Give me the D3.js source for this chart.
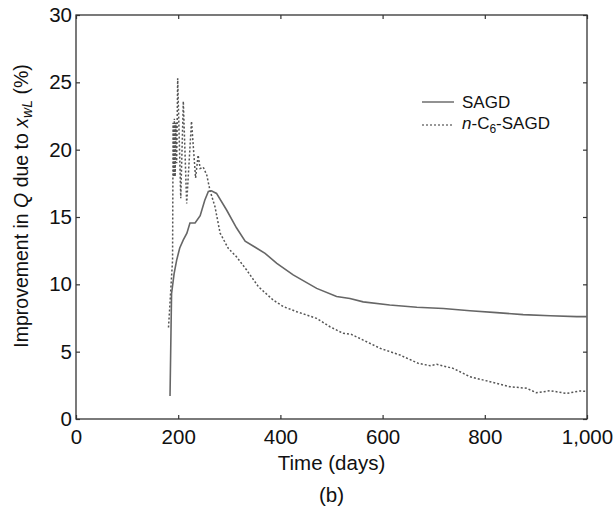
<!DOCTYPE html>
<html>
<head>
<meta charset="utf-8">
<script src="https://cdn.jsdelivr.net/npm/d3@7"></script>
<style>
  html, body { margin: 0; padding: 0; background: #fff; }
  svg { display: block; font-family: "Liberation Sans", Arial, Helvetica, sans-serif; }
</style>
</head>
<body>
<svg id="chart" width="614" height="513"></svg>
<script>
// ---- Data ----
const xTicks = [0, 200, 400, 600, 800, 1000];
const xTickLabels = ["0", "200", "400", "600", "800", "1,000"];
const yTicks = [0, 5, 10, 15, 20, 25, 30];

const sagdDays = [184, 187, 192, 197, 203, 210, 217, 223, 233, 243, 252, 259, 265, 275, 295, 314, 331, 353, 370, 393, 425, 471, 510, 536, 562, 614, 667, 719, 771, 823, 875, 928, 980, 1000];
const sagdVals = [1.7, 9.3, 10.8, 11.8, 12.7, 13.3, 13.8, 14.55, 14.55, 15.1, 16.25, 16.9, 16.95, 16.75, 15.5, 14.2, 13.2, 12.7, 12.3, 11.55, 10.7, 9.7, 9.1, 8.95, 8.7, 8.46, 8.3, 8.2, 8.04, 7.9, 7.75, 7.67, 7.6, 7.6];

const nc6Days = [181, 183, 185, 187, 189, 190, 191, 192.5, 194, 195.5, 197, 199, 205, 210, 216.6, 226, 234, 239, 243, 249, 256, 262, 272, 282, 298, 314, 334, 357, 386, 406, 432, 471, 497, 523, 539, 562, 595, 634, 670, 693, 706, 738, 771, 810, 849, 882, 901, 928, 960, 986, 1000];
const nc6Vals = [6.8, 8.0, 9.3, 10.6, 11.8, 22.0, 18.0, 22.3, 18.0, 22.0, 19.0, 25.3, 16.4, 23.6, 16.0, 22.1, 17.9, 19.6, 18.6, 18.7, 18.1, 17.0, 15.76, 13.8, 12.67, 12.05, 11.06, 9.82, 8.83, 8.34, 7.97, 7.47, 6.85, 6.36, 6.28, 5.86, 5.25, 4.75, 4.13, 3.96, 4.06, 3.76, 3.14, 2.77, 2.4, 2.28, 1.95, 2.1, 1.9, 2.08, 2.05];

const seriesNames = ["SAGD", "n-C6-SAGD"];

// ---- Layout ----
const svg = d3.select("#chart");
const L = 76, R = 587, T = 15, B = 419;
const x = d3.scaleLinear().domain([0, 1000]).range([L, R]);
const y = d3.scaleLinear().domain([0, 30]).range([B, T]);
const axisColor = "#333";
const font = 20.5;

// frame
svg.append("rect").attr("x", L).attr("y", T).attr("width", R - L).attr("height", B - T)
  .attr("fill", "none").attr("stroke", axisColor).attr("stroke-width", 1.3);

// axes with inward ticks
const tickLen = 4;
const gBottom = svg.append("g").attr("transform", `translate(0,${B})`)
  .call(d3.axisBottom(x).tickValues(xTicks).tickFormat((d, i) => xTickLabels[i]).tickSizeInner(-tickLen).tickSizeOuter(0).tickPadding(10));
const gTop = svg.append("g").attr("transform", `translate(0,${T})`)
  .call(d3.axisTop(x).tickValues(xTicks).tickFormat("").tickSizeInner(-tickLen).tickSizeOuter(0));
const gLeft = svg.append("g").attr("transform", `translate(${L},0)`)
  .call(d3.axisLeft(y).tickValues(yTicks).tickSizeInner(-tickLen).tickSizeOuter(0).tickPadding(4));
const gRight = svg.append("g").attr("transform", `translate(${R},0)`)
  .call(d3.axisRight(y).tickValues(yTicks).tickFormat("").tickSizeInner(-tickLen).tickSizeOuter(0));

[gBottom, gTop, gLeft, gRight].forEach(g => {
  g.select(".domain").remove();
  g.selectAll(".tick line").attr("stroke", axisColor).attr("stroke-width", 1.2);
  g.selectAll(".tick text").attr("fill", "#111").style("font-size", font + "px").style("font-family", "Liberation Sans, Arial, sans-serif");
});

// lines
const line = d3.line().x(d => x(d[0])).y(d => y(d[1]));
const sagd = sagdDays.map((d, i) => [d, sagdVals[i]]);
const nc6 = nc6Days.map((d, i) => [d, nc6Vals[i]]);

svg.append("path").datum(nc6).attr("d", line)
  .attr("fill", "none").attr("stroke", "#555").attr("stroke-width", 1.5)
  .attr("stroke-dasharray", "2,2");
svg.append("path").datum(sagd).attr("d", line)
  .attr("fill", "none").attr("stroke", "#666").attr("stroke-width", 1.6);

// legend
const lg = svg.append("g").style("font-size", "17px").attr("fill", "#111");
lg.append("line").attr("x1", 422).attr("x2", 454).attr("y1", 102).attr("y2", 102)
  .attr("stroke", "#777").attr("stroke-width", 1.6);
lg.append("text").attr("x", 462).attr("y", 108).text(seriesNames[0]);
lg.append("line").attr("x1", 422).attr("x2", 454).attr("y1", 125).attr("y2", 125)
  .attr("stroke", "#777").attr("stroke-width", 1.5).attr("stroke-dasharray", "2,2");
const t2 = lg.append("text").attr("x", 462).attr("y", 129);
t2.append("tspan").style("font-style", "italic").text("n");
t2.append("tspan").text("-C");
t2.append("tspan").attr("dy", 4).style("font-size", "12px").text("6");
t2.append("tspan").attr("dy", -4).text("-SAGD");

// axis titles
svg.append("text").attr("x", (L + R) / 2).attr("y", 470).attr("text-anchor", "middle")
  .style("font-size", "20.5px").attr("fill", "#111").text("Time (days)");
svg.append("text").attr("x", (L + R) / 2).attr("y", 502).attr("text-anchor", "middle")
  .style("font-size", "20.5px").attr("fill", "#111").text("(b)");

const yl = svg.append("text").attr("transform", `translate(28,206) rotate(-90)`)
  .attr("text-anchor", "middle").style("font-size", "19.5px").attr("fill", "#111");
yl.append("tspan").text("Improvement in ");
yl.append("tspan").style("font-style", "italic").text("Q");
yl.append("tspan").text(" due to ");
yl.append("tspan").style("font-style", "italic").text("x");
yl.append("tspan").attr("dy", 4).style("font-size", "14px").style("font-style", "italic").text("wL");
yl.append("tspan").attr("dy", -4).text(" (%)");
</script>
</body>
</html>
